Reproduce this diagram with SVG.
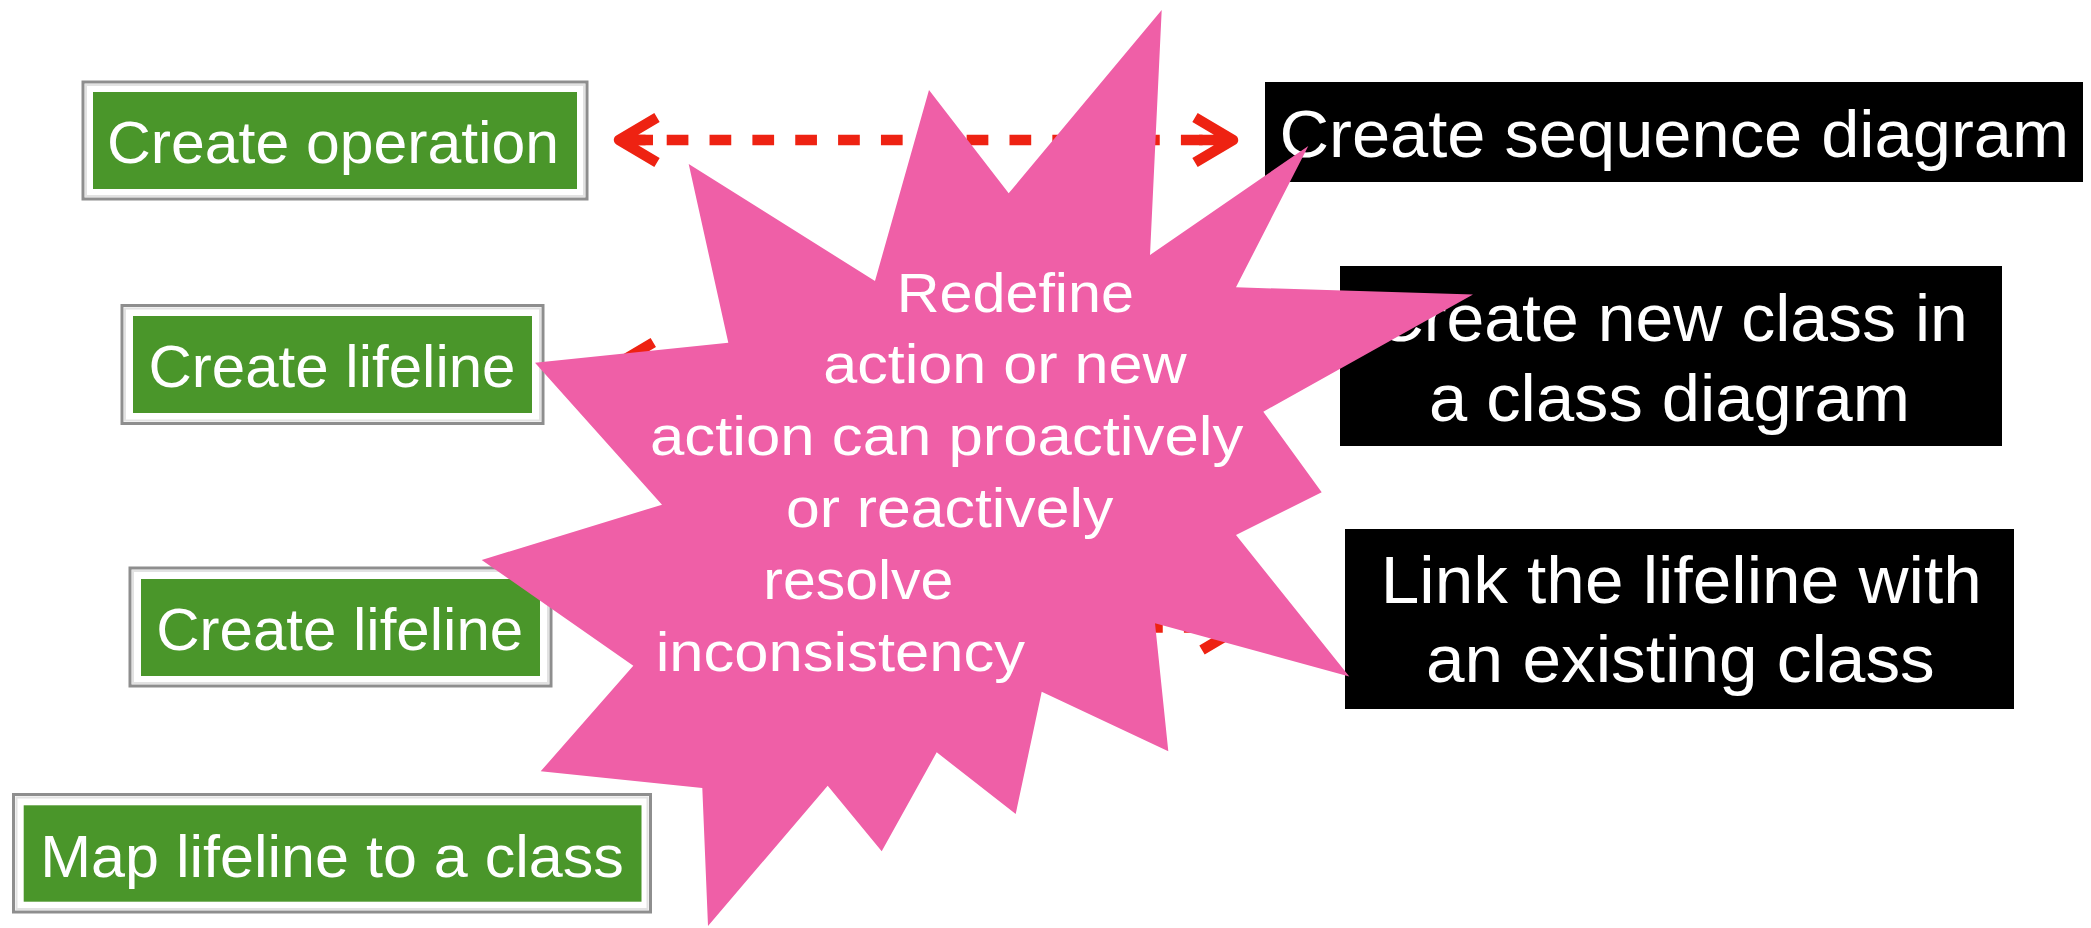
<svg xmlns="http://www.w3.org/2000/svg" width="2091" height="928" viewBox="0 0 2091 928">
<defs>
<style>
.frame{fill:#ffffff;stroke:#8e8e8e;stroke-width:3}
.frame-in{fill:none;stroke:#e2e2e2;stroke-width:2}
.green{fill:#4A962A}
.black{fill:#000000}
.txt{font-family:"Liberation Sans",Arial,Helvetica,sans-serif;fill:#ffffff}
.gt{font-size:60px;text-anchor:middle}
.bt{font-size:66px;text-anchor:middle}
.st{font-size:56px;text-anchor:start}
.dash{fill:none;stroke:#EE2212;stroke-width:10.5;stroke-dasharray:21.7 21.15;marker-start:url(#chev);marker-end:url(#chev)}
.head{fill:none;stroke:#EE2212;stroke-width:10.5;stroke-linejoin:round;stroke-linecap:butt;stroke-dasharray:none}
.star{fill:#EF5FA7}
</style>
<marker id="chev" markerUnits="userSpaceOnUse" orient="auto-start-reverse" viewBox="-60 -40 120 80" refX="0" refY="0" markerWidth="120" markerHeight="80" overflow="visible">
<path class="head" d="M-38,-22.5 L0,0 L-38,22.5 M0,0 H-34"/>
</marker>
</defs>
<rect width="2091" height="928" fill="#ffffff"/>

<g id="node-create-operation">
<rect class="frame" x="83" y="82" width="504" height="117"/>
<rect class="frame-in" x="86" y="85" width="498" height="111"/>
<rect class="green" x="93" y="92" width="484" height="97"/>
<text class="txt gt" x="333" y="163.3" textLength="452" lengthAdjust="spacingAndGlyphs">Create operation</text>
</g>

<g id="node-create-lifeline-1">
<rect class="frame" x="122" y="305.5" width="421" height="118"/>
<rect class="frame-in" x="125" y="308.5" width="415" height="112"/>
<rect class="green" x="133" y="316" width="399" height="97"/>
<text class="txt gt" x="332" y="386.7" textLength="367" lengthAdjust="spacingAndGlyphs">Create lifeline</text>
</g>

<g id="node-create-lifeline-2">
<rect class="frame" x="130" y="568" width="421" height="118"/>
<rect class="frame-in" x="133" y="571" width="415" height="112"/>
<rect class="green" x="141" y="579" width="399" height="97"/>
<text class="txt gt" x="339.7" y="650" textLength="367" lengthAdjust="spacingAndGlyphs">Create lifeline</text>
</g>

<g id="node-map-lifeline">
<rect class="frame" x="13.5" y="794.5" width="637" height="117.5"/>
<rect class="frame-in" x="16.5" y="797.5" width="631" height="111.5"/>
<rect class="green" x="23.7" y="805.3" width="617.8" height="96.4"/>
<text class="txt gt" x="332" y="876.7" textLength="583.5" lengthAdjust="spacingAndGlyphs">Map lifeline to a class</text>
</g>

<g id="node-create-sequence-diagram">
<rect class="black" x="1265" y="82" width="818" height="100"/>
<text class="txt bt" x="1674.3" y="156.7" textLength="789.5" lengthAdjust="spacingAndGlyphs">Create sequence diagram</text>
</g>

<g id="node-create-new-class">
<rect class="black" x="1340" y="266" width="662" height="180"/>
<text class="txt bt" x="1671.3" y="340.7" textLength="593" lengthAdjust="spacingAndGlyphs">Create new class in</text>
<text class="txt bt" x="1669.5" y="420.7" textLength="481" lengthAdjust="spacingAndGlyphs">a class diagram</text>
</g>

<g id="node-link-lifeline">
<rect class="black" x="1345" y="529" width="669" height="180"/>
<text class="txt bt" x="1681.2" y="602.7" textLength="601" lengthAdjust="spacingAndGlyphs">Link the lifeline with</text>
<text class="txt bt" x="1680.4" y="682.3" textLength="508.7" lengthAdjust="spacingAndGlyphs">an existing class</text>
</g>

<g id="connectors">
<path class="dash" d="M619,140 H1233" stroke-dashoffset="38"/>
<path class="dash" d="M615.3,365 H1233" stroke-dashoffset="38"/>
<path class="dash" d="M619,627.5 H1240" stroke-dashoffset="35"/>
</g>

<g id="node-resolve-star">
<polygon class="star" points="688.7,164 875,281 929,90 1008.7,193.3 1161.7,10 1150,255 1308.3,146 1236,287.3 1473,294.5 1263.3,411.7 1321.7,492.3 1236,535 1349.3,676.5 1155,623.3 1168.3,751.3 1041.7,691.7 1015.7,814 936.7,752.3 881.7,851.3 827.7,785.7 708,926 702.3,788 540.7,771.3 633.3,665.7 481.7,560 662,504.7 535,362.7 728.3,342.7"/>
<text class="txt st" x="896.7" y="311.7" textLength="237.3" lengthAdjust="spacingAndGlyphs">Redefine</text>
<text class="txt st" x="823.3" y="383.3" textLength="363.4" lengthAdjust="spacingAndGlyphs">action or new</text>
<text class="txt st" x="650" y="455" textLength="593.3" lengthAdjust="spacingAndGlyphs">action can proactively</text>
<text class="txt st" x="786" y="527.3" textLength="327.3" lengthAdjust="spacingAndGlyphs">or reactively</text>
<text class="txt st" x="763.3" y="599" textLength="190" lengthAdjust="spacingAndGlyphs">resolve</text>
<text class="txt st" x="655.7" y="671.3" textLength="369.3" lengthAdjust="spacingAndGlyphs">inconsistency</text>
</g>
</svg>
